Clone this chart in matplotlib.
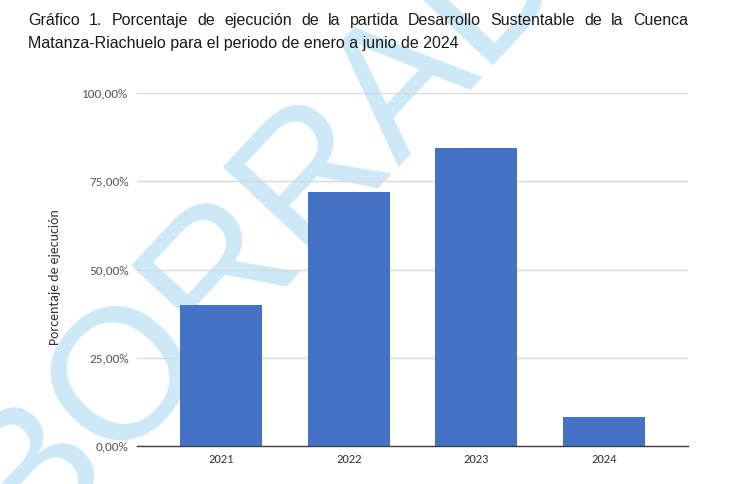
import matplotlib
matplotlib.use("Agg")
import matplotlib.pyplot as plt
from matplotlib import font_manager
from matplotlib.ticker import FuncFormatter

# data
years = ["2021", "2022", "2023", "2024"]
ejecucion = [39.9, 72.0, 84.5, 8.3]
yticks = [0, 25, 50, 75, 100]

title_line1 = "Gráfico 1. Porcentaje de ejecución de la partida Desarrollo Sustentable de la Cuenca"
title_line2 = "Matanza-Riachuelo para el periodo de enero a junio de 2024"
ylabel = "Porcentaje de ejecución"
watermark = "BORRADOR"


def pick_font(names):
    # first installed family from the list
    for n in names:
        try:
            font_manager.findfont(n, fallback_to_default=False)
            return n
        except Exception:
            continue
    return "DejaVu Sans"


title_font = pick_font(["Liberation Sans Narrow", "Arial Narrow", "Liberation Sans"])
chart_font = pick_font(["Carlito", "Lato", "Open Sans"])

W, H = 730, 484
fig = plt.figure(figsize=(W / 100, H / 100), dpi=100)
fig.patch.set_facecolor("white")

# watermark sits behind everything
fig.text(359 / W, 1 - 122 / H, watermark, fontsize=134, color="#cde9f8",
         rotation=47, ha="center", va="center", family="Liberation Sans",
         zorder=0, rotation_mode="anchor", clip_on=True)

ax = fig.add_axes([137 / W, 1 - 446 / H, (688 - 137) / W, (446 - 93) / H])
ax.patch.set_alpha(0)
ax.set_zorder(1)

x = range(len(years))
ax.bar(x, ejecucion, width=0.645, color="#4472C4", zorder=3)

ax.set_xlim(-0.66, 3.66)
ax.set_ylim(0, 100)
ax.set_yticks(yticks)
ax.yaxis.set_major_formatter(FuncFormatter(lambda v, p: f"{v:.2f}%".replace(".", ",")))
ax.set_xticks(list(x))
ax.set_xticklabels(years)

ax.grid(axis="y", color="#d9d9d9", linewidth=1.0, zorder=1)
for s in ["top", "right", "left"]:
    ax.spines[s].set_visible(False)
ax.spines["bottom"].set_color("#404040")
ax.spines["bottom"].set_linewidth(1.0)
ax.spines["bottom"].set_zorder(4)

ax.tick_params(axis="y", length=0, pad=6, labelsize=9.5, labelcolor="#595959")
ax.tick_params(axis="x", length=0, pad=6, labelsize=9, labelcolor="#333333")
for lab in ax.get_xticklabels() + ax.get_yticklabels():
    lab.set_family(chart_font)

fig.text(55 / W, 1 - 277 / H, ylabel, rotation=90, ha="center", va="center",
         fontsize=10, color="#333333", family=chart_font)

# title, first line justified between the margins like in the document
left, right = 28, 688
tsize = 11.5
renderer = fig.canvas.get_renderer()
words = title_line1.split(" ")
texts = [fig.text(0, 1 - 25 / H, w, fontsize=tsize, color="#1a1a1a",
                  family=title_font, va="baseline") for w in words]
widths = [t.get_window_extent(renderer).width for t in texts]
gap = (right - left - sum(widths)) / (len(words) - 1)
xpos = left
for t, w in zip(texts, widths):
    t.set_x(xpos / W)
    xpos += w + gap

fig.text(left / W, 1 - 48 / H, title_line2, fontsize=tsize, color="#1a1a1a",
         family=title_font, va="baseline")

fig.savefig("out.png", dpi=100, facecolor="white")
